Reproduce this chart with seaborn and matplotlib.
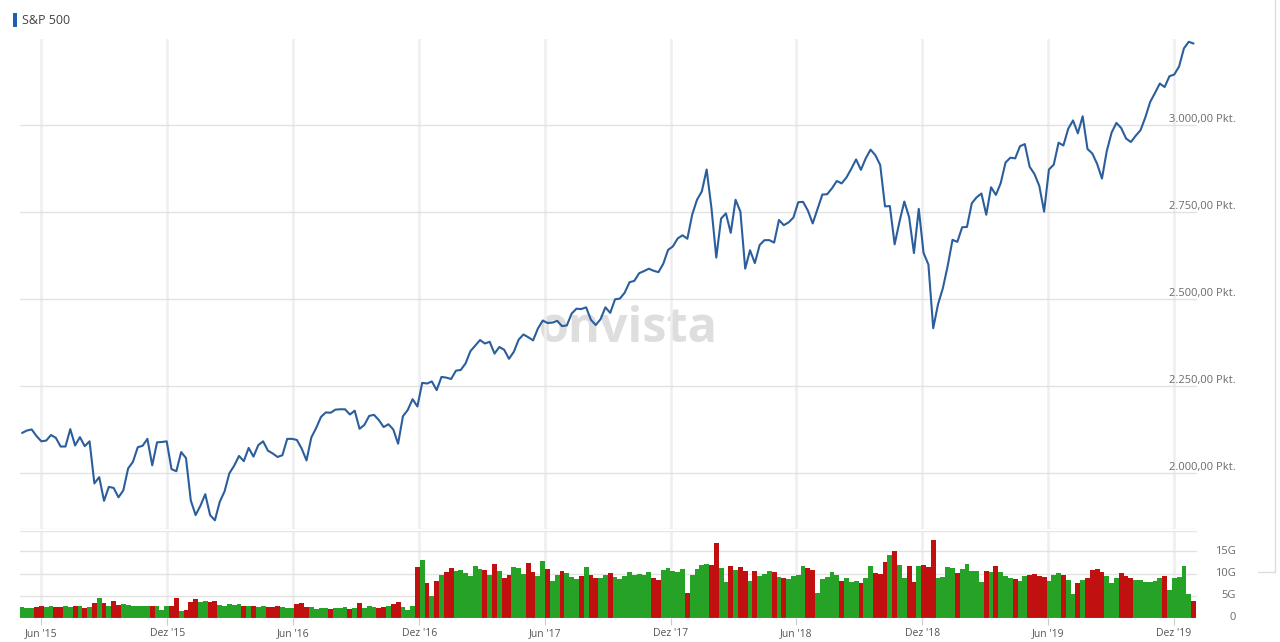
import numpy as np
import pandas as pd
import matplotlib
matplotlib.use("Agg")
import matplotlib.pyplot as plt
import seaborn as sns
from matplotlib.lines import Line2D
from matplotlib.patches import Rectangle

# ---------------- data (weekly, week starting Monday 2015-05-04) ----------------
first_week = "2015-05-04"

closes_2015 = [2116, 2123, 2126, 2107, 2092, 2094, 2110, 2102, 2077, 2077, 2127, 2080,
               2104, 2078, 2092, 1971, 1989, 1921, 1961, 1958, 1931, 1951, 2014, 2033,
               2075, 2079, 2099, 2023, 2089, 2090, 2092, 2012, 2006, 2061, 2044]
closes_2016 = [1922, 1880, 1907, 1940, 1880, 1865, 1918, 1948, 2000, 2022, 2050, 2035,
               2073, 2048, 2081, 2092, 2065, 2057, 2047, 2052, 2099, 2099, 2096, 2071,
               2037, 2103, 2130, 2162, 2175, 2174, 2183, 2184, 2184, 2169, 2180, 2128,
               2139, 2165, 2168, 2153, 2133, 2141, 2126, 2085, 2164, 2182, 2213, 2192,
               2260, 2258, 2264, 2239]
closes_2017 = [2277, 2275, 2271, 2295, 2297, 2316, 2351, 2367, 2383, 2373, 2378, 2344,
               2363, 2355, 2329, 2349, 2384, 2399, 2391, 2382, 2416, 2439, 2432, 2433,
               2438, 2423, 2425, 2459, 2473, 2472, 2477, 2441, 2426, 2443, 2477, 2461,
               2500, 2502, 2519, 2549, 2553, 2575, 2581, 2588, 2582, 2578, 2602, 2642,
               2652, 2675, 2684, 2674]
closes_2018 = [2743, 2786, 2810, 2873, 2762, 2620, 2732, 2747, 2691, 2786, 2752, 2588,
               2641, 2604, 2656, 2670, 2670, 2663, 2728, 2713, 2721, 2735, 2779, 2780,
               2755, 2718, 2760, 2801, 2802, 2819, 2840, 2833, 2850, 2875, 2902, 2872,
               2905, 2930, 2914, 2886, 2767, 2768, 2658, 2723, 2781, 2736, 2633, 2760,
               2633, 2600, 2417, 2486]
closes_2019 = [2532, 2596, 2671, 2665, 2707, 2708, 2776, 2793, 2804, 2743, 2822, 2800,
               2834, 2893, 2907, 2905, 2940, 2946, 2881, 2860, 2826, 2752, 2873, 2887,
               2950, 2942, 2990, 3014, 2977, 3026, 2932, 2919, 2889, 2847, 2926, 2979,
               3007, 2992, 2962, 2952, 2970, 2986, 3023, 3067, 3093, 3120, 3110, 3141,
               3146, 3169, 3221, 3240, 3235]

# weekly volume in billions (G)
volume_2015_16 = [2.4, 2.3, 2.2, 2.4, 2.6, 2.5, 2.7, 2.4, 2.5, 2.6, 2.5, 2.6, 2.8, 2.3,
                  2.5, 3.4, 4.6, 3.3, 2.8, 3.9, 3.0, 3.2, 2.9, 2.8, 2.8, 2.7, 2.7, 2.6,
                  2.7, 1.9, 2.6, 2.8, 4.4, 1.5, 1.8, 3.6, 4.3, 3.5, 3.8, 3.6, 3.9, 3.0,
                  2.8, 3.1, 2.9, 3.2, 2.7, 2.6, 2.7, 2.4, 2.6, 2.5, 2.4, 2.6, 2.5, 2.3,
                  2.3, 3.2, 3.3, 2.5, 2.4, 2.1, 2.3, 2.2, 2.0, 2.2, 2.3, 2.4, 2.1, 2.2,
                  3.4, 2.2, 2.6, 2.5, 2.3, 2.4, 2.7, 3.2, 3.6, 2.4, 1.9, 2.6,
                  11.5, 13.1, 7.8, 5.0, 8.4]
volume_2017 = [9.6, 10.4, 11.3, 10.5, 10.9, 10.2, 9.4, 11.8, 11.0, 10.8, 9.6, 12.1,
               10.6, 8.9, 9.8, 11.5, 11.2, 10.0, 12.4, 10.3, 9.5, 12.8, 11.0, 8.4,
               9.8, 10.6, 10.2, 9.2, 8.8, 9.4, 11.4, 9.7, 9.1, 8.9, 9.6, 10.1,
               9.3, 8.7, 9.5, 10.3, 9.6, 10.0, 9.7, 10.4, 9.1, 8.6, 10.8, 11.2,
               10.6, 10.3, 11.1, 5.6]
volume_2018 = [9.8, 11.0, 12.0, 12.2, 12.0, 16.8, 11.3, 8.0, 11.8, 10.8, 11.4, 10.5,
               8.4, 10.6, 9.5, 10.0, 10.5, 10.3, 9.2, 9.0, 8.7, 9.5, 9.6, 11.8,
               11.2, 10.9, 5.6, 8.8, 9.2, 10.4, 9.7, 8.3, 9.0, 8.1, 8.4, 7.8,
               9.0, 11.7, 10.1, 9.9, 12.6, 14.2, 15.0, 12.0, 9.0, 11.7, 8.0, 11.8,
               12.0, 11.5, 17.5, 9.0]
volume_2019 = [9.2, 11.6, 11.3, 10.2, 11.0, 12.2, 10.5, 10.6, 8.0, 10.6, 10.3, 11.7,
               10.3, 9.4, 9.0, 8.7, 8.3, 9.5, 9.8, 10.0, 9.4, 9.2, 8.4, 9.8,
               10.1, 9.6, 8.6, 5.3, 7.9, 8.5, 9.0, 10.8, 11.0, 10.4, 9.5, 7.8,
               8.9, 10.2, 9.5, 9.0, 8.5, 8.6, 8.2, 8.0, 8.4, 9.0, 9.4, 6.3,
               9.0, 9.2, 11.7, 5.5, 3.8]

y_ticks = [2000, 2250, 2500, 2750, 3000]
vol_ticks = [0, 5, 10, 15]
vol_tick_labels = ["0", "5G", "10G", "15G"]
x_tick_dates = ["2015-06-01", "2015-12-01", "2016-06-01", "2016-12-01", "2017-06-01",
                "2017-12-01", "2018-06-01", "2018-12-01", "2019-06-01", "2019-12-01"]
x_tick_labels = ["Jun '15", "Dez '15", "Jun '16", "Dez '16", "Jun '17",
                 "Dez '17", "Jun '18", "Dez '18", "Jun '19", "Dez '19"]
series_name = "S&P 500"

closes = closes_2015 + closes_2016 + closes_2017 + closes_2018 + closes_2019
volumes = volume_2015_16 + volume_2017 + volume_2018 + volume_2019
assert len(closes) == len(volumes), (len(closes), len(volumes))

weeks = pd.date_range(first_week, periods=len(closes), freq="W-MON")
df = pd.DataFrame({"week": weeks, "close": closes, "volume": volumes})
df["up"] = df["close"].diff().fillna(1.0) >= 0

# ---------------- styling ----------------
sns.set_theme(style="white")
plt.rcParams["font.family"] = ["Open Sans", "DejaVu Sans"]

W, H = 1280, 642
fig = plt.figure(figsize=(W / 100, H / 100), dpi=100)
fig.patch.set_facecolor("white")

def fx(px):
    return px / W

def fy(py):
    return 1 - py / H

left_px, right_px = 20, 1197
main_top, main_bot = 39, 529
vol_top, vol_bot = 531, 618

ax = fig.add_axes([fx(left_px), fy(main_bot), fx(right_px - left_px), (main_bot - main_top) / H])
axv = fig.add_axes([fx(left_px), fy(vol_bot), fx(right_px - left_px), (vol_bot - vol_top) / H], sharex=ax)

line_color = "#2b5e9c"
green = "#26a326"
red = "#c0100f"
grid_v = "#eeeeee"
grid_h = "#e2e2e2"
label_color = "#6a6a6a"

# watermark (behind everything)
fig.text(fx(628), fy(330), "onvista", fontsize=35, fontweight="bold",
         color="#dedede", ha="center", va="center", zorder=-5)

# price line
sns.lineplot(data=df, x="week", y="close", ax=ax, color=line_color, linewidth=1.5,
             legend=False, zorder=5)

# volume bars
axv.bar(df["week"], df["volume"], width=7.0,
        color=np.where(df["up"], green, red), linewidth=0, align="center", zorder=2)

xlim = (pd.Timestamp("2015-05-01"), pd.Timestamp("2020-01-04"))
ax.set_xlim(*xlim)
ax.set_ylim(1840, 3248)
axv.set_ylim(0, 19.6)

tick_pos = pd.to_datetime(x_tick_dates)

for a in (ax, axv):
    a.set_facecolor("none")
    for s in a.spines.values():
        s.set_visible(False)
    a.set_xlabel("")
    a.set_ylabel("")
    for t in tick_pos:
        a.axvline(t, color=grid_v, lw=1.8, zorder=0)

# horizontal grids
for v in y_ticks:
    ax.axhline(v, color=grid_h, lw=1.0, zorder=0)
ax.axhline(1840, color="#e6e6e6", lw=1.0, zorder=0)
for v in vol_ticks[1:]:
    axv.axhline(v, color=grid_h, lw=1.0, zorder=0)
axv.axhline(19.6, color="#e6e6e6", lw=1.0, zorder=0)

# main y labels (right side, above gridline)
def de_fmt(v):
    s = f"{v:,.2f}".replace(",", "X").replace(".", ",").replace("X", ".")
    return s + " Pkt."

ax.set_yticks(y_ticks)
ax.set_yticklabels([de_fmt(v) for v in y_ticks])
ax.yaxis.tick_right()
ax.tick_params(axis="y", length=0, pad=28, labelsize=8, labelcolor=label_color)
for lab in ax.get_yticklabels():
    lab.set_horizontalalignment("right")
    lab.set_verticalalignment("bottom")
ax.tick_params(axis="x", which="both", bottom=False, labelbottom=False, length=0)

# volume y labels
axv.set_yticks(vol_ticks)
axv.set_yticklabels(vol_tick_labels)
axv.yaxis.tick_right()
axv.tick_params(axis="y", length=0, pad=28, labelsize=8, labelcolor=label_color)
for lab in axv.get_yticklabels():
    lab.set_horizontalalignment("right")
    lab.set_verticalalignment("center")

# x ticks
axv.set_xticks(tick_pos)
axv.set_xticklabels(x_tick_labels)
axv.tick_params(axis="x", bottom=True, length=5, width=0.8, color="#cccccc",
                labelsize=7.5, labelcolor="#555555", pad=2)

# baseline
axv.axhline(0, color="#d6d6d6", lw=0.8, zorder=3)

# legend marker + text
fig.patches.append(Rectangle((fx(13), fy(27)), fx(4), 14 / H, transform=fig.transFigure,
                             facecolor="#1f5fb0", edgecolor="none"))
fig.text(fx(22), fy(20), series_name, fontsize=9, color="#444444", ha="left", va="center")

# right panel border
fig.add_artist(Line2D([fx(1275), fx(1275)], [fy(0), fy(572)], color="#dddddd", lw=1.0))
fig.add_artist(Line2D([fx(1258), fx(1275)], [fy(572), fy(572)], color="#dddddd", lw=1.0))

fig.savefig("out.png", dpi=100, facecolor="white")
